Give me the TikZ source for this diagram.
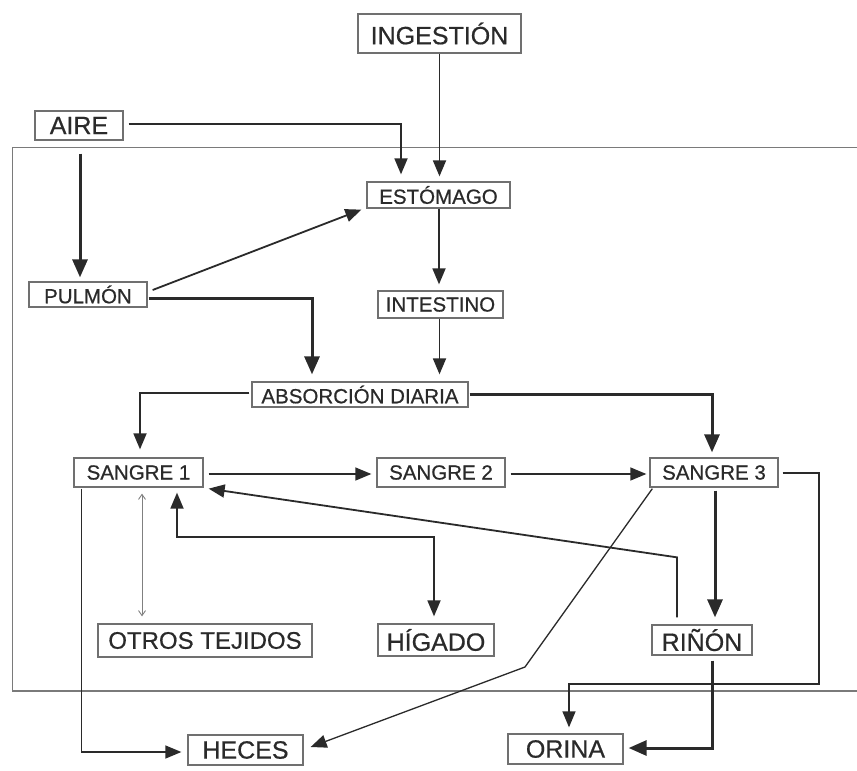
\documentclass[tikz,border=0pt]{standalone}
\usepackage{fontspec}
\setmainfont{Liberation Sans}[FakeBold=0.6]
\usetikzlibrary{arrows.meta,calc}
\definecolor{boxgray}{HTML}{707070}
\definecolor{ln}{HTML}{2A2A2A}
\definecolor{txt}{HTML}{2A2A2A}
\definecolor{framegray}{HTML}{7A7A7A}
\begin{document}
\begin{tikzpicture}[x=1pt,y=-1pt,
 box/.style={draw=boxgray, line width=1.3pt, inner sep=0pt, text=txt, font=\fontsize{20.5}{20.5}\selectfont},
 bigbox/.style={box, font=\fontsize{25}{25}\selectfont},
 med/.style={draw=ln, line width=1.8pt},
 heavy/.style={draw=ln, line width=3pt},
 fine/.style={draw=ln, line width=1.3pt},
 tip/.style={-{Triangle[length=16pt,width=13pt]}},
 tiph/.style={-{Triangle[length=18pt,width=15pt]}},
 tipboth/.style={{Triangle[length=16pt,width=13pt]}-{Triangle[length=16pt,width=13pt]}},
 barbs/.style={draw=gray, line width=0.9pt, {Straight Barb[length=5pt,width=7pt]}-{Straight Barb[length=5pt,width=7pt]}}
]
\useasboundingbox (0,0) rectangle (857,771);
\fill[white] (0,0) rectangle (857,771);
% frame
\draw[framegray, line width=1.2pt] (857,147.5) -- (12.5,147.5) -- (12.5,691) -- (857,691);

% nodes
\node[bigbox, minimum width=163pt, minimum height=39pt] (ing) at (439.5,33.5) {INGESTIÓN};
\node[bigbox, minimum width=88pt, minimum height=29pt] (aire) at (79,125.5) {AIRE};
\node[box, minimum width=143pt, minimum height=26pt] (est) at (438.5,195) {ESTÓMAGO};
\node[box, minimum width=118pt, minimum height=25pt] (pul) at (88,294.5) {PULMÓN};
\node[box, minimum width=125pt, minimum height=27pt] (int) at (440.5,304.5) {INTESTINO};
\node[box, minimum width=216pt, minimum height=25pt] (abs) at (360,394.5) {ABSORCIÓN DIARIA};
\node[box, minimum width=129pt, minimum height=29pt] (s1) at (138.5,472.5) {SANGRE 1};
\node[box, minimum width=128pt, minimum height=29pt] (s2) at (441,472.5) {SANGRE 2};
\node[box, minimum width=128pt, minimum height=29pt] (s3) at (714,472.5) {SANGRE 3};
\node[bigbox, font=\fontsize{24}{24}\selectfont, minimum width=214pt, minimum height=33pt] (ot) at (205,640.5) {OTROS TEJIDOS};
\node[bigbox, minimum width=116pt, minimum height=32pt] (hig) at (436,640) {HÍGADO};
\node[bigbox, minimum width=100pt, minimum height=30pt] (rin) at (702,640) {RIÑÓN};
\node[bigbox, minimum width=115pt, minimum height=30pt] (hec) at (245.5,750) {HECES};
\node[bigbox, minimum width=115pt, minimum height=30pt] (ori) at (565.5,749) {ORINA};

\coordinate (bend1) at (525,667);
\coordinate (c2) at (819,684);

% connectors
\draw[med,tip,shorten >=5pt] (ing.south) -- (ing.south |- est.north);
\draw[med,tip] ($(aire.east)+(5,-1.5)$) -| ($(est.north)+(-37.5,-7)$);
\draw[heavy,tiph] ($(aire.south)+(1,13)$) -- ($(pul.north)+(-8,-4)$);
\draw[med,tip] ($(pul.east)+(5,-4.5)$) -- ($(est.south west)+(-5,1)$);
\draw[heavy,tiph] ($(pul.east)+(1,3.5)$) -| ($(abs.north)+(-48,-7)$);
\draw[med,tip] ($(est.south)+(0.5,0)$) -- ($(int.north)+(-1.5,-6)$);
\draw[med,tip] ($(int.south)+(-1,0)$) -- ($(abs.north)+(79.5,-7)$);
\draw[med,tip] ($(abs.west)+(-2,-1.5)$) -| ($(s1.north)+(1.5,-8)$);
\draw[heavy,tiph] ($(abs.east)+(1,0)$) -| ($(s3.north)+(-2,-5)$);
\draw[fine,tip] ($(s1.east)+(5,1.5)$) -- ($(s2.west)+(-5,1.5)$);
\draw[fine,tip] ($(s2.east)+(5,1.5)$) -- ($(s3.west)+(-3,1.5)$);
\draw[barbs] ($(s1.south)+(3.5,6)$) -- ($(ot.north)+(-63,-7)$);
\draw[med,tipboth] ($(s1.south)+(38.5,5)$) |- ($(hig.north)+(-2,-86)$) -- ($(hig.north)+(-2,-7)$);
\draw[med,tip] ($(rin.north)+(-25,-7)$) -- ($(rin.north)+(-25,-67)$) -- ($(s1.south east)+(5,1)$);
\draw[fine,tip] ($(s3.south west)+(3,1)$) -- (bend1) -- ($(hec.east)+(7,-3)$);
\draw[heavy,tiph] ($(s3.south)+(1,3)$) -- ($(rin.north)+(13,-7)$);
\draw[fine,tip] ($(s3.east)+(4,0.5)$) -| (c2) -| ($(ori.north)+(3.5,-6)$);
\draw[heavy,tiph] ($(rin.south)+(10,5)$) |- ($(ori.east)+(5,-1)$);
\draw[fine,tip] ($(s1.south west)+(8,1)$) |- ($(hec.west)+(-6,2)$);
\end{tikzpicture}
\end{document}
